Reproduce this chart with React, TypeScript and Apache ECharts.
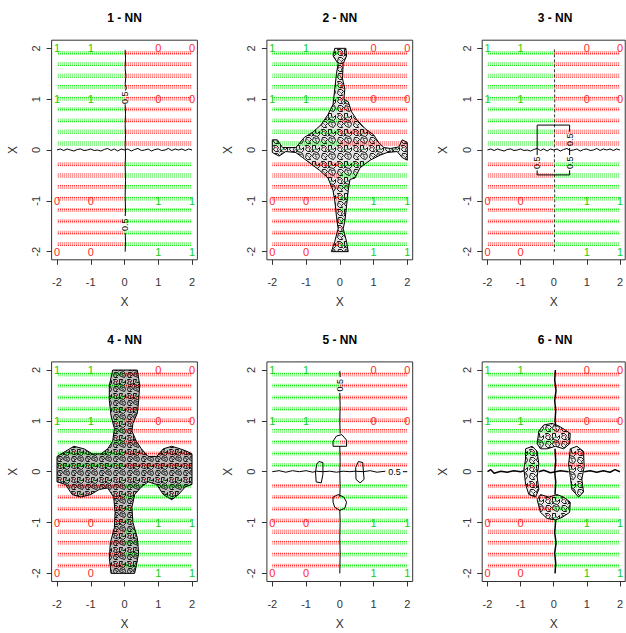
import React, { useEffect, useRef } from "react";
import * as echarts from "echarts";

const FONT = "'Liberation Sans', Arial, sans-serif";
const panelTitles = ["1 - NN", "2 - NN", "3 - NN", "4 - NN", "5 - NN", "6 - NN"];
const tickValues = [-2, -1, 0, 1, 2];

// rows of the prediction grid (as they appear in the picture)
const bandY = [1.91, 1.69, 1.46, 1.24, 1.01, 0.8, 0.58, 0.36, 0.13, -0.28, -0.5, -0.73, -0.96, -1.18, -1.4, -1.63, -1.85];
const halfRanges = [[-2, 0], [0, 2]];
const halfClassUpper = [1, 0];
const halfClassLower = [0, 1];

// training points, shown as their class labels
const labelXs = [-2, -1, 1, 2];
const labelYs = [2, 1, -1, -2];
const labelClass = [
  [1, 1, 0, 0],
  [1, 1, 0, 0],
  [0, 0, 1, 1],
  [0, 0, 1, 1],
];

// ---- contour lines (0.5 level) ----
const wave1 = [[-2, 0], [-1.9, 0.02], [-1.8, -0.01], [-1.7, 0.02], [-1.6, 0], [-1.5, -0.02], [-1.4, 0.01], [-1.3, 0.02], [-1.2, -0.01], [-1.1, 0], [-1, 0.02], [-0.9, -0.01], [-0.8, 0], [-0.7, -0.02], [-0.6, 0.01], [-0.5, 0.03], [-0.4, -0.01], [-0.3, 0.02], [-0.2, -0.02], [-0.1, 0.02], [0, 0], [0.1, 0.02], [0.2, -0.02], [0.3, 0.01], [0.4, 0.03], [0.5, -0.01], [0.6, 0], [0.7, 0.02], [0.8, -0.02], [0.9, 0.01], [1, 0.02], [1.1, -0.01], [1.2, 0], [1.3, 0.03], [1.4, -0.01], [1.5, 0.02], [1.6, 0], [1.7, 0.02], [1.8, -0.01], [1.9, 0.02], [2, 0]];
const p1Vertical = [
  [[0.02, 1.97], [0.03, 1.8], [0.02, 1.6], [0.04, 1.45], [0.02, 1.3], [0.05, 1.22], [0.03, 1.17]],
  [[0.02, 0.9], [0.03, 0.7], [0.02, 0.5], [0.03, 0.3], [0.02, 0.1], [0.03, -0.1], [0.02, -0.3], [0.03, -0.6], [0.02, -0.9], [0.03, -1.2], [0.02, -1.3]],
  [[0.02, -1.63], [0.03, -1.8], [0.02, -2]],
];
const p1Labels = [[0.01, 1.03, 90], [0.01, -1.47, 90]];

const p3Vertical = [[[0.02, 1.98], [0.03, 1.0], [0.02, 0], [0.03, -1.0], [0.02, -2]]];
const p3Box = [
  [[-0.5, 0.0], [-0.5, 0.49], [0.48, 0.49], [0.48, 0.36]],
  [[0.48, 0.04], [0.48, -0.1]],
  [[0.48, -0.4], [0.48, -0.49], [-0.5, -0.49], [-0.5, -0.4]],
  [[-0.5, -0.1], [-0.5, 0.0]],
];
const p3Labels = [[0.48, 0.2, 90], [0.48, -0.25, 90], [-0.5, -0.25, 90]];

const wave5 = [[-2, 0], [-1.8, 0.02], [-1.6, -0.01], [-1.4, 0.02], [-1.2, 0], [-1.0, 0.02], [-0.8, -0.01], [-0.7, 0.01], [-0.5, 0], [-0.3, 0.01], [-0.1, -0.01], [0.1, 0.01], [0.3, 0], [0.45, 0.01], [0.7, 0], [0.9, 0.02], [1.1, -0.01], [1.35, 0.01]];
const p5Lines = [
  [[0.0, 1.98], [0.01, 1.86]],
  [[0.0, 1.55], [0.01, 1.3], [0.0, 1.0], [0.01, 0.75]],
  [[0.0, 0.5], [0.01, 0.2], [0.0, 0.0], [0.01, -0.3], [0.0, -0.5]],
  [[0.0, -0.75], [0.01, -1.0], [0.0, -1.3], [0.01, -1.6], [0.0, -2.0]],
  [[1.87, 0.0], [2.0, 0.0]],
];
const p5Blobs = [
  [[-0.2, 0.5], [0.2, 0.5], [0.2, 0.62], [0.06, 0.73], [-0.1, 0.7], [-0.2, 0.6], [-0.2, 0.5]],
  [[-0.2, -0.5], [-0.05, -0.45], [0.12, -0.5], [0.2, -0.6], [0.15, -0.72], [0.0, -0.76], [-0.15, -0.7], [-0.2, -0.6], [-0.2, -0.5]],
  [[-0.62, 0.2], [-0.5, 0.18], [-0.5, -0.05], [-0.55, -0.22], [-0.7, -0.2], [-0.72, 0.0], [-0.68, 0.15], [-0.62, 0.2]],
  [[0.55, 0.2], [0.68, 0.18], [0.7, 0.0], [0.72, -0.15], [0.6, -0.22], [0.48, -0.15], [0.47, 0.08], [0.55, 0.2]],
];
const p5Labels = [[0.01, 1.7, 90], [1.62, 0.0, 0]];

// ---- noisy decision regions (outlines) ----
const p2Shape = [[-0.15, 2.0], [0.18, 2.0], [0.2, 1.85], [0.1, 1.7], [0.08, 1.4], [0.15, 1.2], [0.12, 1.0], [0.25, 0.95], [0.35, 0.75], [0.5, 0.6], [0.75, 0.42], [1.0, 0.3], [1.15, 0.15], [1.3, 0.05], [1.5, 0.03], [1.75, 0.06], [1.85, 0.2], [2.0, 0.15], [2.0, -0.2], [1.85, -0.15], [1.7, -0.03], [1.4, -0.05], [1.2, -0.1], [0.9, -0.2], [0.6, -0.35], [0.45, -0.55], [0.3, -0.58], [0.25, -0.8], [0.2, -1.1], [0.15, -1.4], [0.1, -1.55], [0.2, -1.8], [0.25, -2.0], [-0.25, -2.0], [-0.15, -1.8], [-0.05, -1.55], [-0.1, -1.3], [-0.15, -1.0], [-0.2, -0.8], [-0.35, -0.55], [-0.6, -0.4], [-0.9, -0.25], [-1.1, -0.15], [-1.3, -0.05], [-1.6, -0.03], [-1.8, -0.12], [-2.0, -0.05], [-2.0, 0.2], [-1.85, 0.2], [-1.7, 0.05], [-1.3, 0.05], [-1.05, 0.25], [-0.8, 0.35], [-0.55, 0.5], [-0.35, 0.7], [-0.2, 0.9], [-0.15, 1.2], [-0.1, 1.5], [-0.05, 1.7], [-0.2, 1.85]];
const p4Shape = [[-0.35, 2.0], [0.38, 2.0], [0.45, 1.7], [0.42, 1.4], [0.38, 1.15], [0.25, 0.95], [0.22, 0.8], [0.35, 0.6], [0.5, 0.45], [0.7, 0.3], [0.95, 0.3], [1.15, 0.45], [1.4, 0.5], [1.65, 0.45], [1.85, 0.4], [2.0, 0.35], [2.0, -0.25], [1.8, -0.3], [1.6, -0.45], [1.4, -0.55], [1.15, -0.45], [0.95, -0.25], [0.7, -0.2], [0.5, -0.3], [0.3, -0.45], [0.22, -0.7], [0.25, -1.0], [0.38, -1.3], [0.42, -1.6], [0.35, -1.85], [0.3, -2.0], [-0.4, -2.0], [-0.45, -1.7], [-0.42, -1.4], [-0.3, -1.1], [-0.28, -0.8], [-0.32, -0.5], [-0.5, -0.32], [-0.75, -0.35], [-1.0, -0.45], [-1.3, -0.5], [-1.55, -0.45], [-1.75, -0.25], [-2.0, -0.2], [-2.0, 0.3], [-1.75, 0.4], [-1.5, 0.5], [-1.2, 0.45], [-0.95, 0.35], [-0.7, 0.35], [-0.5, 0.45], [-0.35, 0.6], [-0.3, 0.85], [-0.4, 1.1], [-0.45, 1.4], [-0.45, 1.7]];
const p6Petals = [
  [[-0.5, 0.55], [-0.45, 0.8], [-0.3, 0.92], [-0.05, 0.95], [0.15, 0.9], [0.35, 0.82], [0.5, 0.75], [0.48, 0.55], [0.3, 0.45], [0.05, 0.5], [-0.2, 0.45], [-0.4, 0.45]],
  [[-0.5, -0.55], [-0.4, -0.45], [-0.15, -0.5], [0.1, -0.45], [0.3, -0.5], [0.5, -0.6], [0.48, -0.8], [0.25, -0.9], [0.05, -0.95], [-0.2, -0.92], [-0.4, -0.8]],
  [[-0.85, 0.45], [-0.65, 0.5], [-0.5, 0.4], [-0.45, 0.15], [-0.5, -0.1], [-0.45, -0.35], [-0.55, -0.5], [-0.75, -0.45], [-0.85, -0.25], [-0.9, 0.05], [-0.85, 0.25]],
  [[0.5, 0.45], [0.7, 0.5], [0.9, 0.4], [0.92, 0.1], [0.85, -0.15], [0.9, -0.4], [0.75, -0.5], [0.55, -0.35], [0.5, -0.1], [0.45, 0.15]],
];
const p6Lines = [
  [[0.05, 2.0], [0.03, 1.8], [0.07, 1.6], [0.03, 1.4], [0.06, 1.2], [0.04, 1.0], [0.06, 0.9]],
  [[0.04, 0.45], [0.06, 0.2], [0.03, 0.0], [0.06, -0.2], [0.04, -0.45]],
  [[0.06, -0.95], [0.03, -1.2], [0.07, -1.4], [0.03, -1.6], [0.06, -1.8], [0.04, -2.0]],
  [[-2.0, 0.0], [-1.9, 0.04], [-1.8, -0.03], [-1.6, 0.01], [-1.4, -0.01], [-1.2, 0.02], [-1.0, 0.0], [-0.9, 0.02]],
  [[-0.45, 0.0], [-0.3, 0.03], [-0.1, -0.02], [0.2, 0.02], [0.45, 0.0]],
  [[0.92, 0.0], [1.1, 0.02], [1.3, -0.01], [1.5, 0.02], [1.7, -0.01], [1.85, 0.04], [2.0, 0.0]],
];

const LABEL_GREEN = "#10d010";
const LABEL_RED = "#ff2a2a";

// vertical-stripe tile imitating the fine grid of predicted points
function makeStripeTile(rgb: string) {
  const c = document.createElement("canvas");
  c.width = 2; c.height = 4;
  const ctx = c.getContext("2d")!;
  ctx.fillStyle = `rgba(${rgb},0.42)`;
  ctx.fillRect(0, 0, 1, 4);
  ctx.fillStyle = `rgba(${rgb},0.75)`;
  ctx.fillRect(0, 1, 1, 1);
  ctx.fillStyle = `rgba(${rgb},0.12)`;
  ctx.fillRect(1, 0, 1, 4);
  return c;
}

// a hand-drawn tile imitating the tangle of tiny contour loops
const tangleLoops = [
  [[1, 2], [6, 1], [9, 4], [7, 7], [9, 10], [5, 11], [2, 8], [3, 5], [1, 2]],
  [[12, 1], [17, 2], [16, 6], [20, 7], [22, 4], [23, 9], [19, 12], [14, 10], [12, 6], [12, 1]],
  [[3, 14], [8, 13], [10, 17], [7, 20], [9, 23], [4, 23], [1, 19], [3, 14]],
  [[13, 14], [18, 15], [21, 13], [23, 18], [20, 22], [15, 21], [12, 18], [13, 14]],
  [[10, 8], [13, 9], [11, 12]],
  [[16, 17], [18, 19]],
  [[5, 16], [6, 18]],
];
function makeTangleTile(bg: string, size: number) {
  const c = document.createElement("canvas");
  c.width = size; c.height = size;
  const ctx = c.getContext("2d")!;
  ctx.fillStyle = bg;
  ctx.fillRect(0, 0, size, size);
  const k = size / 24;
  ctx.strokeStyle = "rgba(0,0,0,0.9)";
  ctx.lineWidth = 1;
  tangleLoops.forEach((l) => {
    ctx.beginPath();
    l.forEach((pt, i) => {
      const x = Math.round(pt[0] * k) + 0.5, y = Math.round(pt[1] * k) + 0.5;
      if (i) ctx.lineTo(x, y); else ctx.moveTo(x, y);
    });
    ctx.stroke();
  });
  ctx.fillStyle = "rgba(255,0,0,0.75)";
  ctx.fillRect(Math.round(5 * k), Math.round(5 * k), 2, 1);
  ctx.fillStyle = "rgba(0,200,0,0.75)";
  ctx.fillRect(Math.round(15 * k), Math.round(7 * k), 2, 1);
  return c;
}

function App() {
  const ref = useRef<HTMLDivElement>(null);
  useEffect(() => {
    if (!ref.current) return;
    const chart = echarts.init(ref.current, undefined, { renderer: "svg" });
    const gl = 51.6, gt = 40.2, gw = 145.8, gh = 219.6, cs = 215.3, rs = 321.7;
    const grids: any[] = [], xAxes: any[] = [], yAxes: any[] = [], series: any[] = [], graphics: any[] = [];
    const axisText = { fontSize: 11, color: "#333", fontFamily: FONT };
    const greenTile = makeStripeTile("0,235,0");
    const redTile = makeStripeTile("255,20,20");

    const lineSeries = (p: number, pts: number[][], extra: any = {}) => ({
      type: "line", xAxisIndex: p, yAxisIndex: p, data: pts, showSymbol: false, symbol: "none", color: "#000",
      lineStyle: { color: "#000", width: 1, ...(extra.lineStyle || {}) }, z: 5, silent: true, clip: false,
    });
    const polySeries = (p: number, pts: number[][], bg: string, size: number) => {
      const tile = makeTangleTile(bg, size);
      return {
        type: "custom", xAxisIndex: p, yAxisIndex: p, data: pts, encode: { x: 0, y: 1 }, z: 4, silent: true,
        renderItem: (params: any, api: any) => {
          if (params.dataIndex !== 0) return null;
          const cps = pts.map((q) => api.coord(q));
          return { type: "polygon", shape: { points: cps }, style: { fill: { image: tile, repeat: "repeat" }, stroke: "#000", lineWidth: 1 } };
        },
      };
    };
    // text marks placed through the axes: item = [x, y, ...]
    const textMarks = (p: number, items: number[][], textOf: (it: number[]) => string, colorOf: (it: number[]) => string, size: number, rotOf: (it: number[]) => number, z: number) => ({
      type: "custom", xAxisIndex: p, yAxisIndex: p, data: items, encode: { x: 0, y: 1 }, z, silent: true,
      renderItem: (params: any, api: any) => {
        const it = items[params.dataIndex];
        const pt = api.coord([api.value(0), api.value(1)]);
        return {
          type: "text", x: pt[0], y: pt[1], rotation: (rotOf(it) * Math.PI) / 180,
          style: { text: textOf(it), fill: colorOf(it), fontSize: size, fontFamily: FONT, align: "center", verticalAlign: "middle", textAlign: "center", textVerticalAlign: "middle" },
        };
      },
    });

    for (let p = 0; p < 6; p++) {
      const col = p % 3, row = Math.floor(p / 3);
      const left = gl + col * cs, top = gt + row * rs;
      grids.push({ left, top, width: gw, height: gh, show: true, borderColor: "#333", borderWidth: 1, backgroundColor: "rgba(0,0,0,0)", containLabel: false });
      xAxes.push({
        gridIndex: p, type: "value", min: -2.16, max: 2.16,
        axisLine: { show: false, onZero: false }, splitLine: { show: false },
        axisTick: { show: true, inside: false, length: 5, customValues: tickValues, lineStyle: { color: "#333" } },
        axisLabel: { customValues: tickValues, margin: 17, ...axisText },
        name: "X", nameLocation: "middle", nameGap: 36, nameTextStyle: { ...axisText, fontSize: 12 },
      });
      yAxes.push({
        gridIndex: p, type: "value", min: -2.16, max: 2.16,
        axisLine: { show: false, onZero: false }, splitLine: { show: false },
        axisTick: { show: true, inside: false, length: 5, customValues: tickValues, lineStyle: { color: "#333" } },
        axisLabel: { customValues: tickValues, margin: 10, rotate: 90, ...axisText },
        name: "X", nameLocation: "middle", nameGap: 33, nameTextStyle: { ...axisText, fontSize: 12 },
      });
      graphics.push({
        type: "text", x: left + gw / 2, y: 18.3 + row * rs,
        style: { text: panelTitles[p], textAlign: "center", textVerticalAlign: "middle", fontSize: 12, fontWeight: "bold", fontFamily: FONT, fill: "#000" },
      });

      // prediction grid bands: [x0, x1, y, class]
      const bands: number[][] = [];
      bandY.forEach((y) => {
        halfRanges.forEach((r, h) => {
          const cls = y > 0 ? halfClassUpper[h] : halfClassLower[h];
          bands.push([r[0], r[1], y, cls]);
        });
      });
      series.push({
        type: "custom", xAxisIndex: p, yAxisIndex: p, data: bands, encode: { x: [0, 1], y: 2 }, z: 1, silent: true,
        renderItem: (params: any, api: any) => {
          const a = api.coord([api.value(0), api.value(2)]);
          const b = api.coord([api.value(1), api.value(2)]);
          const tile = api.value(3) === 1 ? greenTile : redTile;
          return { type: "rect", shape: { x: a[0], y: a[1] - 2, width: b[0] - a[0], height: 4 }, style: { fill: { image: tile, repeat: "repeat" } } };
        },
      });

      // training labels: [x, y, class]
      const lab: number[][] = [];
      labelYs.forEach((y, i) => labelXs.forEach((x, j) => lab.push([x, y, labelClass[i][j]])));
      series.push(textMarks(p, lab, (it) => String(it[2]), (it) => (it[2] === 1 ? LABEL_GREEN : LABEL_RED), 11, () => 0, 3));
    }

    const contourLabels = (p: number, items: number[][]) => textMarks(p, items, () => "0.5", () => "#000", 9, (it) => it[2], 6);

    // panel 1
    p1Vertical.forEach((s) => series.push(lineSeries(0, s)));
    series.push(lineSeries(0, wave1));
    series.push(contourLabels(0, p1Labels));
    // panel 2
    series.push(polySeries(1, p2Shape, "rgba(0,0,0,0.1)", 16));
    // panel 3
    p3Vertical.forEach((s) => series.push(lineSeries(2, s, { lineStyle: { type: [3, 2], color: "#333" } })));
    series.push(lineSeries(2, wave1));
    p3Box.forEach((s) => series.push(lineSeries(2, s)));
    series.push(contourLabels(2, p3Labels));
    // panel 4
    series.push(polySeries(3, p4Shape, "rgba(0,0,0,0.25)", 14));
    // panel 5
    series.push(lineSeries(4, wave5));
    p5Lines.forEach((s) => series.push(lineSeries(4, s)));
    p5Blobs.forEach((s) => series.push(lineSeries(4, s)));
    series.push(contourLabels(4, p5Labels));
    // panel 6
    p6Lines.forEach((s) => series.push(lineSeries(5, s, { lineStyle: { width: 1.5 } })));
    p6Petals.forEach((s) => series.push(polySeries(5, s, "rgba(0,0,0,0.08)", 16)));

    chart.setOption({
      animation: false, backgroundColor: "#fff",
      grid: grids, xAxis: xAxes, yAxis: yAxes, series, graphic: graphics,
    });
    return () => chart.dispose();
  }, []);
  return <div ref={ref} style={{ position: "fixed", left: 0, top: 0, width: 626, height: 633 }} />;
}

export default App;
